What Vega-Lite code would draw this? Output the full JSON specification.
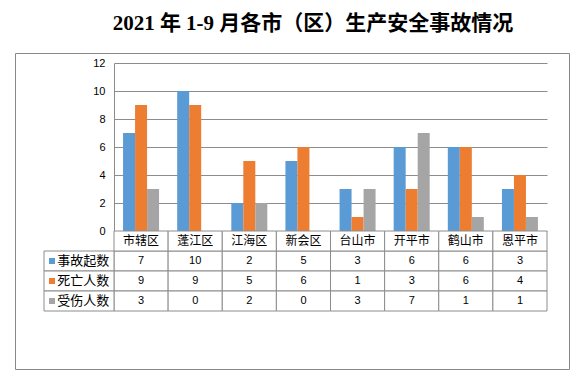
{
  "$schema": "https://vega.github.io/schema/vega-lite/v6.json",
  "width": 554,
  "height": 316,
  "autosize": "none",
  "padding": {"left": 15, "top": 53, "right": 13, "bottom": 10},
  "background": "white",
  "title": {
    "text": "2021 年 1-9 月各市（区）生产安全事故情况",
    "font": "Liberation Serif, Noto Sans CJK SC",
    "fontSize": 21,
    "fontWeight": "bold",
    "color": "#000000",
    "anchor": "middle",
    "frame": "group",
    "dx": 21,
    "offset": 19
  },
  "config": {
    "view": {"stroke": "#888888", "strokeWidth": 1},
    "font": "Noto Sans CJK SC"
  },
  "data": {
    "values": [
      {"area": "市辖区", "series": "事故起数", "value": 7},
      {"area": "市辖区", "series": "死亡人数", "value": 9},
      {"area": "市辖区", "series": "受伤人数", "value": 3},
      {"area": "蓬江区", "series": "事故起数", "value": 10},
      {"area": "蓬江区", "series": "死亡人数", "value": 9},
      {"area": "蓬江区", "series": "受伤人数", "value": 0},
      {"area": "江海区", "series": "事故起数", "value": 2},
      {"area": "江海区", "series": "死亡人数", "value": 5},
      {"area": "江海区", "series": "受伤人数", "value": 2},
      {"area": "新会区", "series": "事故起数", "value": 5},
      {"area": "新会区", "series": "死亡人数", "value": 6},
      {"area": "新会区", "series": "受伤人数", "value": 0},
      {"area": "台山市", "series": "事故起数", "value": 3},
      {"area": "台山市", "series": "死亡人数", "value": 1},
      {"area": "台山市", "series": "受伤人数", "value": 3},
      {"area": "开平市", "series": "事故起数", "value": 6},
      {"area": "开平市", "series": "死亡人数", "value": 3},
      {"area": "开平市", "series": "受伤人数", "value": 7},
      {"area": "鹤山市", "series": "事故起数", "value": 6},
      {"area": "鹤山市", "series": "死亡人数", "value": 6},
      {"area": "鹤山市", "series": "受伤人数", "value": 1},
      {"area": "恩平市", "series": "事故起数", "value": 3},
      {"area": "恩平市", "series": "死亡人数", "value": 4},
      {"area": "恩平市", "series": "受伤人数", "value": 1}
    ]
  },
  "layer": [
    {
      "layer": [
        {
          "mark": {"type": "bar"},
          "encoding": {
            "x": {"field": "area", "type": "nominal", "axis": null,
              "scale": {"domain": ["市辖区", "蓬江区", "江海区", "新会区", "台山市", "开平市", "鹤山市", "恩平市"], "range": [99, 532], "paddingInner": 0, "paddingOuter": 0}},
            "xOffset": {"field": "series", "type": "nominal",
              "scale": {"domain": ["事故起数", "死亡人数", "受伤人数"], "paddingInner": 0, "paddingOuter": 0.755}},
            "y": {"field": "value", "type": "quantitative",
              "scale": {"domain": [0, 12], "range": [178, 10], "nice": false},
              "axis": {"orient": "left", "offset": -99, "values": [0, 2, 4, 6, 8, 10, 12], "labels": true, "ticks": false, "domain": true, "domainColor": "#8c8c8c", "grid": true, "gridColor": "#8c8c8c", "gridOpacity": 1, "labelPadding": 9, "labelFont": "Liberation Sans", "labelFontSize": 11, "labelColor": "#000000", "title": null}},
            "color": {"field": "series", "type": "nominal", "legend": null,
              "scale": {"domain": ["事故起数", "死亡人数", "受伤人数"], "range": ["#5B9BD5", "#ED7D31", "#A5A5A5"]}}
          }
        },
        {
          "layer": [
            {
              "mark": {"type": "rect", "fill": "white", "stroke": "#8c8c8c", "strokeWidth": 1},
              "encoding": {
                "x": {"field": "area", "type": "nominal", "axis": null},
                "y": {"field": "series", "type": "nominal", "axis": null,
                  "scale": {"domain": ["header", "事故起数", "死亡人数", "受伤人数"], "range": [178, 258], "paddingInner": 0, "paddingOuter": 0}}
              }
            },
            {
              "transform": [{"filter": "datum.series === '事故起数'"}],
              "mark": {"type": "rect", "fill": "white", "stroke": "#8c8c8c", "strokeWidth": 1},
              "encoding": {
                "x": {"field": "area", "type": "nominal", "axis": null},
                "y": {"datum": "header", "type": "nominal", "axis": null}
              }
            },
            {
              "mark": {"type": "text", "font": "Liberation Sans", "fontSize": 11, "color": "#000000"},
              "encoding": {
                "x": {"field": "area", "type": "nominal", "axis": null},
                "y": {"field": "series", "type": "nominal", "axis": null},
                "text": {"field": "value", "type": "quantitative"}
              }
            },
            {
              "transform": [{"filter": "datum.series === '事故起数'"}],
              "mark": {"type": "text", "fontSize": 12, "color": "#000000"},
              "encoding": {
                "x": {"field": "area", "type": "nominal", "axis": null},
                "y": {"datum": "header", "type": "nominal", "axis": null},
                "text": {"field": "area", "type": "nominal"}
              }
            }
          ]
        }
      ],
      "resolve": {"scale": {"y": "independent"}, "axis": {"y": "independent"}}
    },
    {
      "transform": [{"filter": "datum.area === '市辖区'"}],
      "layer": [
        {
          "mark": {"type": "rect", "fill": "white", "stroke": "#8c8c8c", "strokeWidth": 1},
          "encoding": {
            "x": {"datum": "key", "type": "nominal", "axis": null,
              "scale": {"domain": ["key"], "range": [29, 99], "paddingInner": 0, "paddingOuter": 0}},
            "y": {"field": "series", "type": "nominal", "axis": null,
              "scale": {"domain": ["header", "事故起数", "死亡人数", "受伤人数"], "range": [178, 258], "paddingInner": 0, "paddingOuter": 0}}
          }
        },
        {
          "mark": {"type": "point", "shape": "square", "filled": true, "size": 36, "opacity": 1},
          "encoding": {
            "x": {"datum": "key", "type": "nominal", "axis": null, "bandPosition": 0.114},
            "y": {"field": "series", "type": "nominal", "axis": null},
            "color": {"field": "series", "type": "nominal", "legend": null,
              "scale": {"domain": ["事故起数", "死亡人数", "受伤人数"], "range": ["#5B9BD5", "#ED7D31", "#A5A5A5"]}}
          }
        },
        {
          "mark": {"type": "text", "align": "left", "fontSize": 13, "color": "#000000"},
          "encoding": {
            "x": {"datum": "key", "type": "nominal", "axis": null, "bandPosition": 0.19},
            "y": {"field": "series", "type": "nominal", "axis": null},
            "text": {"field": "series", "type": "nominal"}
          }
        }
      ]
    }
  ],
  "resolve": {"scale": {"x": "independent", "y": "independent"}, "axis": {"x": "independent", "y": "independent"}}
}
